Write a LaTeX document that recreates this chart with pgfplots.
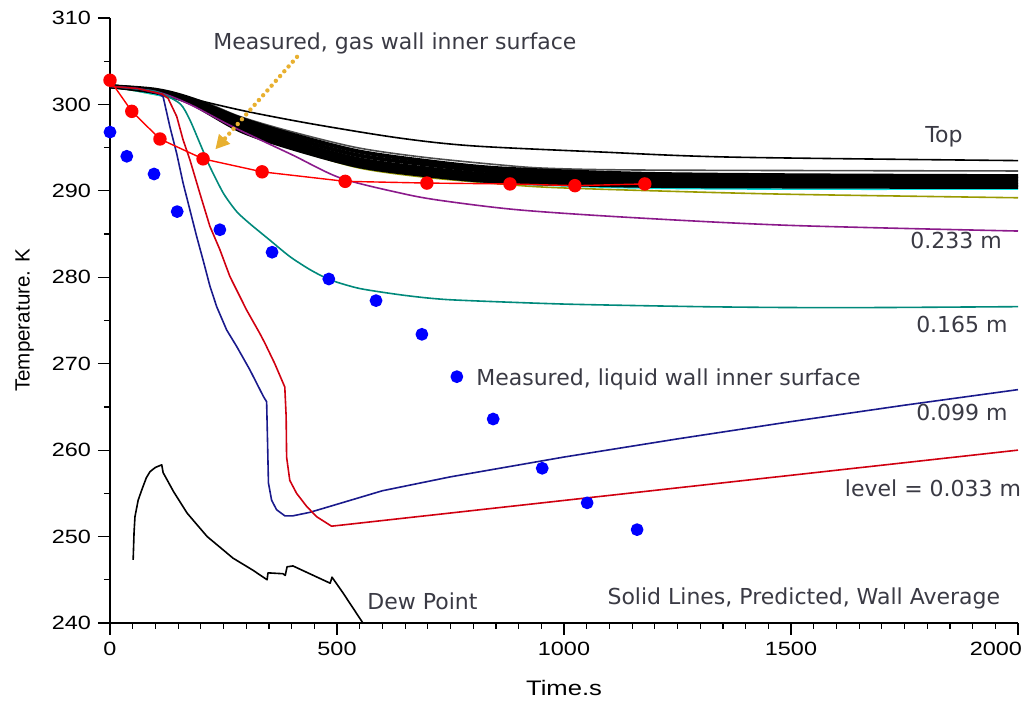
\documentclass[border=0pt]{standalone}
\usepackage{pgfplots}
\pgfplotsset{compat=1.18}
\usepackage{fontspec}
\setmainfont{Liberation Sans}
\newfontfamily\tickfont[FakeStretch=1.22]{Liberation Sans}
\newfontfamily\annotfont{DejaVu Sans}
\usetikzlibrary{arrows.meta}

\definecolor{predred}{HTML}{D00010}
\definecolor{prednavy}{HTML}{1A1A8C}
\definecolor{predteal}{HTML}{00897B}
\definecolor{predpurple}{HTML}{8B1A8B}
\definecolor{predolive}{HTML}{9A9A00}
\definecolor{predcyan}{HTML}{00E0E0}
\definecolor{txtgray}{HTML}{3A3A44}
\definecolor{arrowgold}{HTML}{E8B030}

\begin{document}
\begin{tikzpicture}
\begin{axis}[
    scale only axis,
    width=454pt, height=302.5pt,
    xmin=0, xmax=2000, ymin=240, ymax=310,
    axis x line=bottom, axis y line=left,
    axis line style={-, line width=1pt},
    xtick={0,500,1000,1500,2000},
    xticklabels={0,500,1000,1500,\makebox[0pt][r]{2000\hspace{-2pt}}},
    ytick={240,250,...,310},
    minor x tick num=9, minor y tick num=1,
    tick align=outside,
    major tick length=6pt, minor tick length=3pt,
    tick style={black, line width=0.6pt},
    ticklabel style={font=\tickfont\fontsize{9.6}{11}\selectfont},
    /pgf/number format/assume math mode=true,
    xlabel={Time.s}, ylabel={Temperature. K},
    every axis x label/.style={at={(axis description cs:0.5,-0.107)}, anchor=center,
        font=\tickfont\fontsize{10.5}{12}\selectfont},
    every axis y label/.style={at={(axis description cs:-0.094,0.5)}, rotate=90, anchor=center,
        font=\fontsize{10.3}{12}\selectfont},
    clip=false,
    every axis plot/.append style={line width=0.8pt, line join=round},
]

% predicted: olive and cyan under the bundle
\addplot[predolive, no marks, smooth] coordinates {
 (0,302.1) (176,300.2) (286,297.0) (396,295.0) (544,292.7) (689,291.6)
 (859,290.8) (969,290.4) (1200,290.0) (1500,289.6) (2000,289.2)};
\addplot[predcyan, no marks, smooth] coordinates {
 (0,302.1) (176,300.2) (286,297.0) (396,295.0) (544,292.8) (689,291.8)
 (859,290.9) (1152,290.35) (1500,290.2) (2000,290.2)};

% thick black bundle (wall average, upper levels)
\addplot[black!70, no marks, smooth] coordinates {
 (0,302.1) (176,300.8) (286,298.6) (396,296.9) (544,295.0) (689,293.9)
 (859,293.0) (969,292.6) (1200,292.4) (2000,292.3)};
\addplot[black, no marks, smooth, line width=2pt] coordinates {
 (0,302.1) (100,301.7) (176,300.7) (286,298.4) (396,296.6) (544,294.6)
 (689,293.5) (859,292.6) (1152,292.0) (1500,291.8) (2000,291.7)};
\addplot[black, no marks, smooth, line width=2pt] coordinates {
 (0,302.1) (100,301.6) (176,300.6) (286,298.05) (396,296.2) (544,294.15)
 (689,293.1) (859,292.2) (1152,291.6) (1500,291.45) (2000,291.4)};
\addplot[black, no marks, smooth, line width=2pt] coordinates {
 (0,302.1) (100,301.55) (176,300.45) (286,297.7) (396,295.8) (544,293.7)
 (689,292.65) (859,291.8) (1152,291.25) (1500,291.1) (2000,291.05)};
\addplot[black, no marks, smooth, line width=2pt] coordinates {
 (0,302.1) (100,301.5) (176,300.3) (286,297.35) (396,295.4) (544,293.3)
 (689,292.25) (859,291.4) (1152,290.9) (1500,290.75) (2000,290.7)};
\addplot[black, no marks, smooth, line width=2pt] coordinates {
 (0,302.1) (100,301.4) (176,300.2) (286,297.0) (396,295.0) (544,292.9)
 (689,291.85) (859,291.05) (1152,290.6) (1500,290.5) (2000,290.45)};

% Top
\addplot[black, no marks, smooth] coordinates {
 (0,302.1) (100,301.6) (176,300.7) (300,299.2) (450,297.7) (639,296.1)
 (800,295.2) (1079,294.5) (1372,293.9) (2000,293.5)};

% 0.233 m
\addplot[predpurple, no marks, smooth] coordinates {
 (0,302.1) (100,301.5) (176,300.0) (271,297.4) (400,294.2) (507,291.5)
 (639,289.75) (727,288.9) (900,287.8) (1152,286.9) (1500,286.0) (2000,285.35)};

% 0.165 m
\addplot[predteal, no marks, smooth, tension=0.4] coordinates {
 (0,302.1) (100,301.5) (154,300.1) (176,298.2) (198,295.5) (220,292.8)
 (250,289.7) (279,287.6) (308,286.2) (352,284.3) (396,282.4) (440,280.9)
 (485,279.7) (550,278.7) (650,277.9) (749,277.4) (1000,276.9) (1300,276.6)
 (1500,276.5) (1700,276.5) (2000,276.6)};

% 0.099 m
\addplot[prednavy, no marks] coordinates {
 (0,302.1) (60,301.85) (105,301.3) (117,300.9) (132,297.4) (147,294.3)
 (161,290.9) (176,287.8) (191,284.7) (205,282.0) (220,279.0) (235,276.6)
 (257,273.9) (279,272.0) (308,269.3) (338,266.2) (345,265.6) (347,261.0)
 (349,256.2) (356,254.2) (367,253.1) (385,252.4) (403,252.4) (440,252.8)
 (485,253.5) (600,255.3) (749,256.9) (1000,259.2) (1250,261.3)
 (1500,263.3) (1750,265.2) (2000,267.0)};

% level = 0.033 m
\addplot[predred, no marks] coordinates {
 (0,302.1) (60,301.85) (115,301.2) (128,300.7) (147,298.6) (161,295.9)
 (176,293.6) (198,289.7) (220,285.9) (242,283.2) (264,280.1) (301,276.2)
 (330,273.5) (341,272.4) (363,270.0) (385,267.3) (388,263.9) (389,259.2)
 (396,256.5) (411,255.0) (433,253.5) (455,252.3) (488,251.2) (2000,260.0)};

% Dew point
\addplot[black, no marks] coordinates {
 (51,247.3) (53,250.5) (55,252.3) (62,254.2) (70,255.4) (80,256.8) (88,257.5)
 (100,258.0) (114,258.3) (117,257.4) (140,255.2) (170,252.7) (214,250.0)
 (271,247.5) (315,246.1) (346,245.0) (348,245.8) (381,245.7) (386,245.5)
 (390,246.5) (403,246.6) (485,244.6) (489,245.3) (513,243.5) (557,240.0)};

% measured, liquid wall inner surface
\addplot[only marks, mark=*, mark size=2.8pt, blue, mark options={draw=blue, fill=blue}] coordinates {
 (0,296.8) (37,294.0) (97,291.95) (148,287.6) (242,285.5) (357,282.9)
 (482,279.8) (586,277.3) (687,273.4) (764,268.5) (844,263.6) (952,257.9)
 (1051,253.9) (1161,250.8)};

% measured, gas wall inner surface
\addplot[red, line width=0.7pt, mark=*, mark size=3pt, mark options={draw=red, fill=red}] coordinates {
 (0,302.8) (48,299.2) (110,296.0) (205,293.7) (335,292.2) (518,291.1)
 (698,290.9) (881,290.8) (1024,290.6) (1178,290.8)};

% annotations
\draw[arrowgold, line width=2.2pt, line cap=round, dash pattern=on 0pt off 3.2pt,
      -{Triangle[length=7pt, width=7pt]}]
  (axis cs:412,305.5) -- (axis cs:232,294.8);
\begin{scope}[every node/.style={font=\annotfont\fontsize{11}{13}\selectfont, text=txtgray, inner sep=0pt}]
\node[anchor=west] at (axis cs:227,307.0) {Measured, gas wall inner surface};
\node[anchor=west] at (axis cs:1795,296.2) {Top};
\node[anchor=west] at (axis cs:1762,284.3) {0.233 m};
\node[anchor=west] at (axis cs:1775,274.5) {0.165 m};
\node[anchor=west] at (axis cs:806,268.2) {Measured, liquid wall inner surface};
\node[anchor=west] at (axis cs:1775,264.4) {0.099 m};
\node[anchor=west] at (axis cs:1618,255.6) {level = 0.033 m};
\node[anchor=west] at (axis cs:566,242.5) {Dew Point};
\node[anchor=west] at (axis cs:1095,242.8) {Solid Lines, Predicted, Wall Average};
\end{scope}
\end{axis}
\pgfresetboundingbox
\path[use as bounding box] ([xshift=-55pt,yshift=-39.5pt]current axis.south west)
  rectangle ([xshift=4.5pt,yshift=9pt]current axis.north east);
\end{tikzpicture}
\end{document}
